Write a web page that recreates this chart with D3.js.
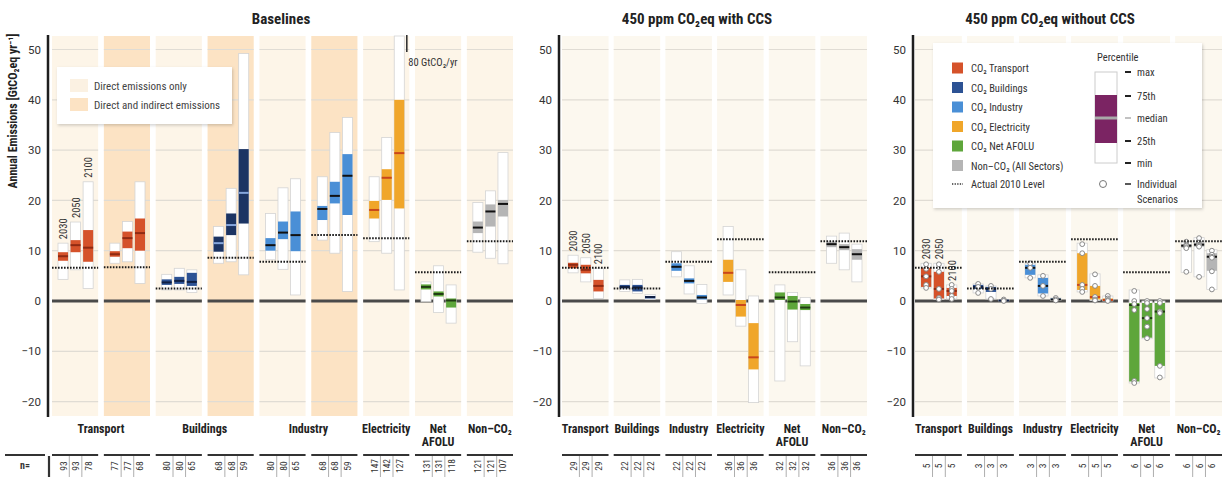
<!DOCTYPE html>
<html><head><meta charset="utf-8">
<script src="https://cdn.jsdelivr.net/npm/d3@7"></script>
<style>
body{margin:0;background:#fff;}
svg{display:block;font-family:'Liberation Sans Narrow','Roboto Condensed',Roboto,sans-serif;}
</style></head><body>
<svg id="c" width="1226" height="477"></svg>
<script>
// ---------------- DATA ----------------
const years = ["2030", "2050", "2100"];
const yTicks = [50, 40, 30, 20, 10, 0, -10, -20];

// Baselines: [min, p25, median, p75, max] per year
const baseGroups = ["Transport","Transport","Buildings","Buildings","Industry","Industry","Electricity","Net AFOLU","Non-CO₂"];
const baseScope  = ["direct","indirect","direct","indirect","direct","indirect","direct","direct","direct"];
const baseStats = [
  [[4.3,8.0,8.9,9.7,11.5],[6.2,9.7,11.1,12.1,15.7],[2.5,7.8,10.6,14.1,23.7]],
  [[7.5,8.8,9.3,9.9,11.5],[7.8,10.5,12.5,13.8,15.8],[3.5,10.0,13.5,16.4,23.7]],
  [[2.2,3.2,3.7,4.3,5.3],[2.2,3.4,4.0,4.8,6.5],[1.7,3.0,3.8,5.6,6.2]],
  [[7.5,9.8,11.5,12.8,14.8],[7.8,13.1,15.1,17.4,22.4],[5.2,15.4,21.5,30.2,49.2]],
  [[8.2,10.0,11.1,12.5,17.4],[6.3,12.3,13.6,15.8,22.5],[1.2,9.9,13.1,17.8,24.3]],
  [[12.1,16.1,18.3,18.9,24.7],[9.5,19.4,20.9,23.7,33.5],[1.9,17.1,24.9,29.2,36.5]],
  [[11.8,16.4,18.1,19.9,24.7],[9.5,20.1,24.5,26.2,32.5],[2.2,18.4,29.4,40.0,80]],
  [[-0.1,2.3,2.8,3.3,3.8],[-2.3,0.9,1.4,1.9,7.0],[-4.4,-1.3,0.1,0.5,3.2]],
  [[9.7,13.5,14.6,15.8,19.6],[8.5,14.8,17.8,19.2,21.9],[7.4,16.8,19.3,20.1,29.5]]
];
const base2010 = [6.6, 6.7, 2.5, 8.6, 7.8, 13.1, 12.5, 5.7, 11.9];
const baseN = [[93,93,78],[77,77,68],[80,80,65],[68,68,59],[80,80,65],[68,68,59],[147,142,127],[131,131,118],[121,121,107]];
const baseLabels = [["Transport",0,1],["Buildings",2,3],["Industry",4,5],["Electricity",6,6],["Net|AFOLU",7,7],["Non–CO₂",8,8]];

// 450 ppm with CCS
const ccsGroups = ["Transport","Buildings","Industry","Electricity","Net AFOLU","Non-CO₂"];
const ccsStats = [
  [[5.6,6.5,7.2,7.6,9.1],[3.8,5.5,6.2,7.2,8.6],[0.5,1.9,3.0,4.2,6.5]],
  [[1.9,2.5,2.8,3.2,4.2],[1.5,1.9,2.7,3.2,4.3],[0.3,0.5,0.8,1.0,1.3]],
  [[4.8,6.0,6.8,7.5,9.8],[1.4,3.5,4.0,4.5,7.0],[-0.5,0.3,0.7,1.2,3.3]],
  [[1.2,3.8,5.6,8.2,14.8],[-5.0,-3.1,-0.8,0.2,6.2],[-20.2,-13.6,-11.2,-4.4,1.0]],
  [[-15.9,0.2,0.7,1.7,3.2],[-8.1,-1.7,-0.1,1.0,1.7],[-12.9,-1.8,-1.3,-0.6,0.7]],
  [[7.5,10.7,11.3,11.8,12.9],[6.2,10.1,10.7,11.3,13.5],[3.8,8.2,9.3,10.3,11.3]]
];
const ccs2010 = [6.6, 2.5, 7.8, 12.3, 5.7, 11.9];
const ccsN = [[29,29,29],[22,22,22],[22,22,22],[36,36,36],[32,32,32],[36,36,36]];

// 450 ppm without CCS
const noCcsGroups = ["Transport","Buildings","Industry","Electricity","Net AFOLU","Non-CO₂"];
const noCcsStats = [
  [[2.6,2.8,4.9,6.6,7.5],[0.3,0.5,2.4,5.8,7.5],[0.4,1.0,2.0,2.6,3.2]],
  [[1.6,2.4,2.8,3.2,3.4],[0.4,1.8,2.4,2.8,3.0],[0.0,0.0,0.1,0.2,0.3]],
  [[4.6,5.2,6.6,7.2,7.5],[1.0,1.5,3.0,4.6,5.2],[0.1,0.2,0.3,0.5,0.6]],
  [[1.8,2.2,3.2,9.5,11.5],[0.1,0.3,0.8,3.0,5.4],[0.0,0.1,0.2,0.5,1.0]],
  [[-16.3,-16.0,-0.8,-0.4,2.2],[-7.5,-7.3,-3.4,-0.4,0.0],[-15.3,-12.9,-2.1,-0.4,0.0]],
  [[5.7,10.6,11.0,11.3,11.8],[4.8,10.8,11.2,11.6,12.6],[2.3,6.0,8.8,9.5,10.2]]
];
const noCcsScenarios = [
  [[7.3,6.4,4.9,3.2,2.6],[7.3,5.8,2.4,0.6,0.3],[3.2,2.4,2.0,1.0,0.4]],
  [[3.4,2.8,1.6],[3.0,2.4,0.4],[0.3,0.1,0.0]],
  [[7.5,6.6,4.6],[5.0,3.0,1.0],[0.6,0.3,0.1]],
  [[11.3,9.5,3.2,2.4,1.8],[5.3,3.0,0.8,0.3,0.1],[1.0,0.5,0.2,0.1,0.0]],
  [[2.0,0.0,-0.6,-1.8,-15.9,-16.3],[0.0,-0.4,-1.6,-3.4,-5.1,-7.4],[0.0,-0.4,-2.1,-2.4,-12.9,-15.2]],
  [[11.8,11.2,11.0,10.7,10.5,5.8],[12.5,11.6,11.2,11.0,10.8,4.8],[10.0,9.2,8.8,8.6,5.9,2.3]]
];
const noCcs2010 = [6.6, 2.5, 7.8, 12.3, 5.7, 11.9];
const noCcsN = [[5,5,5],[3,3,3],[3,3,3],[5,5,5],[6,6,6],[6,6,6]];
const sixLabels = [["Transport",0,0],["Buildings",1,1],["Industry",2,2],["Electricity",3,3],["Net|AFOLU",4,4],["Non–CO₂",5,5]];

const legendSectors = ["CO₂ Transport","CO₂ Buildings","CO₂ Industry","CO₂ Electricity","CO₂ Net AFOLU","Non–CO₂ (All Sectors)"];
const legendKeys = ["Transport","Buildings","Industry","Electricity","Net AFOLU","Non-CO₂"];
const percentileLabels = ["max","75th","median","25th","min"];

// ---------------- STYLE ----------------
const sectorColor = {"Transport":"#d5522a","Buildings":"#2c5294","Industry":"#4a8fd6","Electricity":"#f0a62a","Net AFOLU":"#5ea63b","Non-CO₂":"#b5b5b5"};
const medianColor = {"Transport":"#8f2a12","Buildings":"#101f42","Industry":"#111","Electricity":"#c9461b","Net AFOLU":"#1f3a12","Non-CO₂":"#111"};
const indirectBuildings = {fill:"#1c3463", median:"#86a6dc"};
const bgDirect = "#fdf5e8", bgIndirect = "#fce3c4", bgMit = "#fcf8ef";

const svg = d3.select("#c");
const y = d3.scaleLinear().domain([-20, 50]).range([401.6, 49.5]);
const TOP = 36, BOT = 416;

function drawPanel(cfg) {
  const g = svg.append("g");
  const n = cfg.groups.length;
  const gx = d3.scaleBand().domain(d3.range(n)).range([cfg.x0, cfg.x1]).paddingInner(cfg.pad);
  const bw = gx.bandwidth();
  const bx = d3.scaleBand().domain(years).range([6, bw - 5]).paddingInner(0.2);

  g.selectAll("rect.bg").data(d3.range(n)).join("rect")
    .attr("x", i => gx(i)).attr("y", TOP).attr("width", bw).attr("height", BOT - TOP)
    .attr("fill", i => cfg.scope ? (cfg.scope[i] === "indirect" ? bgIndirect : bgDirect) : bgMit);

  d3.range(n).forEach(i => {
    g.selectAll(null).data(yTicks.filter(t => t !== 0)).join("line")
      .attr("x1", gx(i)).attr("x2", gx(i) + bw)
      .attr("y1", t => y(t)).attr("y2", t => y(t))
      .attr("stroke", "#e0dcd4").attr("stroke-width", 1.2);
  });
  g.selectAll("line.zero").data(d3.range(n)).join("line")
    .attr("x1", i => gx(i)).attr("x2", i => gx(i) + bw)
    .attr("y1", y(0)).attr("y2", y(0))
    .attr("stroke", "#4a4a4a").attr("stroke-width", 3);

  const ax = g.append("g").attr("transform", `translate(${cfg.axisX},0)`)
    .call(d3.axisLeft(y).tickValues(yTicks).tickSize(0).tickPadding(7));
  ax.select(".domain").remove();
  ax.selectAll("text").attr("font-size", 11.5).attr("fill", "#333").attr("font-family", "Roboto, sans-serif");
  g.append("line").attr("x1", cfg.axisX).attr("x2", cfg.axisX).attr("y1", 35).attr("y2", 417)
    .attr("stroke", "#1e1e1e").attr("stroke-width", 2.5);

  cfg.stats.forEach((grp, i) => {
    const sector = cfg.groups[i];
    let fill = sectorColor[sector], med = medianColor[sector];
    if (cfg.scope && cfg.scope[i] === "indirect" && sector === "Buildings") { fill = indirectBuildings.fill; med = indirectBuildings.median; }
    grp.forEach((s, j) => {
      const x = gx(i) + bx(years[j]), w = bx.bandwidth();
      const top = Math.max(y(s[4]), TOP);
      g.append("rect").attr("x", x).attr("y", top).attr("width", w).attr("height", y(s[0]) - top)
        .attr("fill", "#fff").attr("stroke", "#d4d4d4").attr("stroke-width", 0.8);
      g.append("rect").attr("x", x).attr("y", y(s[3])).attr("width", w).attr("height", y(s[1]) - y(s[3]))
        .attr("fill", fill);
      g.append("line").attr("x1", x).attr("x2", x + w).attr("y1", y(s[2])).attr("y2", y(s[2]))
        .attr("stroke", med).attr("stroke-width", 2);
      if (s[4] > 52.5) {
        g.append("line").attr("x1", x + w + 2.5).attr("x2", x + w + 2.5).attr("y1", 35).attr("y2", 52)
          .attr("stroke", "#333").attr("stroke-width", 1.6);
        g.append("text").attr("x", x + w + 4).attr("y", 66).attr("font-size", 10.5).attr("fill", "#333")
          .text(s[4] + " GtCO₂/yr");
      }
      if (cfg.scen) {
        g.selectAll(null).data(cfg.scen[i][j]).join("circle")
          .attr("cx", x + w / 2).attr("cy", v => y(v)).attr("r", 2.4)
          .attr("fill", "#fff").attr("stroke", "#8a8a8a").attr("stroke-width", 1);
      }
      if (i === 0) {
        g.append("text").attr("transform", `translate(${x + w / 2 + 4},${y(s[4]) - 4}) rotate(-90)`)
          .attr("font-size", 10.5).attr("fill", "#333").text(years[j]);
      }
    });
  });

  g.selectAll("line.lvl").data(cfg.level).join("line")
    .attr("x1", (d, i) => gx(i)).attr("x2", (d, i) => gx(i) + bw)
    .attr("y1", d => y(d)).attr("y2", d => y(d))
    .attr("stroke", "#1a1a1a").attr("stroke-width", 2).attr("stroke-dasharray", "1.6,1.4");

  cfg.labels.forEach(([lab, a, b]) => {
    const cx = (gx(a) + gx(b) + bw) / 2;
    lab.split("|").forEach((t, k) => {
      g.append("text").attr("x", cx).attr("y", 433 + k * 13).attr("text-anchor", "middle")
        .attr("font-size", 12).attr("font-weight", "bold").attr("fill", "#222").text(t);
    });
  });

  cfg.nvals.forEach((ns, i) => {
    g.append("line").attr("x1", gx(i)).attr("x2", gx(i) + bw).attr("y1", 455).attr("y2", 455)
      .attr("stroke", "#333").attr("stroke-width", 1.8);
    ns.forEach((v, j) => {
      const cx = gx(i) + bx(years[j]) + bx.bandwidth() / 2;
      g.append("text").attr("transform", `translate(${cx + 3.5},466) rotate(-90)`)
        .attr("text-anchor", "middle").attr("font-size", 9.5).attr("fill", "#333").text(v);
      if (j > 0) {
        const sx = gx(i) + bx(years[j]) - bx.step() * 0.1;
        g.append("line").attr("x1", sx).attr("x2", sx).attr("y1", 456).attr("y2", 477)
          .attr("stroke", "#999").attr("stroke-width", 0.8);
      }
    });
  });

  g.append("text").attr("x", cfg.titleX).attr("y", 24).attr("text-anchor", "middle")
    .attr("font-size", 15).attr("font-weight", "bold").attr("fill", "#222").text(cfg.title);
}

drawPanel({title:"Baselines", titleX:281, axisX:48, x0:52, x1:513, pad:0.11, groups:baseGroups, scope:baseScope,
  stats:baseStats, level:base2010, nvals:baseN, labels:baseLabels});
drawPanel({title:"450 ppm CO₂eq with CCS", titleX:697, axisX:559, x0:562, x1:867, pad:0.1, groups:ccsGroups,
  stats:ccsStats, level:ccs2010, nvals:ccsN, labels:sixLabels});
drawPanel({title:"450 ppm CO₂eq without CCS", titleX:1050, axisX:913, x0:915, x1:1222, pad:0.1, groups:noCcsGroups,
  stats:noCcsStats, level:noCcs2010, nvals:noCcsN, labels:sixLabels, scen:noCcsScenarios});

svg.append("text").attr("transform", "translate(17,111) rotate(-90)").attr("text-anchor", "middle")
  .attr("font-size", 12).attr("font-weight", "bold").attr("fill", "#222").text("Annual Emissions [GtCO₂eq yr⁻¹]");

svg.append("line").attr("x1", 5).attr("x2", 45).attr("y1", 455).attr("y2", 455).attr("stroke", "#333").attr("stroke-width", 1.8);
svg.append("text").attr("x", 20).attr("y", 469).attr("font-size", 10).attr("font-weight", "bold").attr("fill", "#333").text("n=");
svg.append("line").attr("x1", 49).attr("x2", 49).attr("y1", 456).attr("y2", 477).attr("stroke", "#333").attr("stroke-width", 2.2);

const defs = svg.append("defs");
const f = defs.append("filter").attr("id", "sh").attr("x", "-10%").attr("y", "-10%").attr("width", "120%").attr("height", "130%");
f.append("feDropShadow").attr("dx", 1).attr("dy", 1.5).attr("stdDeviation", 1.5).attr("flood-color", "#000").attr("flood-opacity", 0.18);

const L = svg.append("g");
L.append("rect").attr("x", 57).attr("y", 67).attr("width", 175).attr("height", 57).attr("fill", "#fff").attr("filter", "url(#sh)");
L.append("rect").attr("x", 70).attr("y", 79).attr("width", 18).attr("height", 13).attr("fill", "#fbf1e2");
L.append("rect").attr("x", 70).attr("y", 98).attr("width", 18).attr("height", 13).attr("fill", bgIndirect);
L.append("text").attr("x", 94).attr("y", 90).attr("font-size", 11).attr("fill", "#444").text("Direct emissions only");
L.append("text").attr("x", 94).attr("y", 109).attr("font-size", 11).attr("fill", "#444").text("Direct and indirect emissions");

const R = svg.append("g");
R.append("rect").attr("x", 933).attr("y", 43).attr("width", 269).attr("height", 165).attr("fill", "#fff").attr("filter", "url(#sh)");
legendSectors.forEach((t, i) => {
  const cy = 68 + i * 19.5;
  R.append("rect").attr("x", 952).attr("y", cy - 5.5).attr("width", 11).attr("height", 11).attr("fill", sectorColor[legendKeys[i]]);
  R.append("text").attr("x", 971).attr("y", cy + 4).attr("font-size", 10.5).attr("fill", "#333").text(t);
});
R.append("line").attr("x1", 952).attr("x2", 963).attr("y1", 184).attr("y2", 184).attr("stroke", "#333").attr("stroke-width", 1.5).attr("stroke-dasharray", "1.3,1.3");
R.append("text").attr("x", 971).attr("y", 188).attr("font-size", 10.5).attr("fill", "#333").text("Actual 2010 Level");
R.append("text").attr("x", 1097).attr("y", 61).attr("font-size", 10.5).attr("fill", "#333").text("Percentile");
R.append("rect").attr("x", 1095).attr("y", 72).attr("width", 22).attr("height", 91).attr("fill", "#fff").attr("stroke", "#ccc");
R.append("rect").attr("x", 1095).attr("y", 95).attr("width", 22).attr("height", 48).attr("fill", "#7b2463");
R.append("line").attr("x1", 1095).attr("x2", 1117).attr("y1", 118).attr("y2", 118).attr("stroke", "#a9a9a9").attr("stroke-width", 3);
const pY = [72, 96, 118, 141, 163];
percentileLabels.forEach((t, i) => {
  R.append("line").attr("x1", 1125).attr("x2", 1131).attr("y1", pY[i]).attr("y2", pY[i])
    .attr("stroke", i === 2 ? "#999" : "#222").attr("stroke-width", i === 2 ? 1.2 : 2);
  R.append("text").attr("x", 1137).attr("y", pY[i] + 4).attr("font-size", 10.5).attr("fill", "#333").text(t);
});
R.append("circle").attr("cx", 1103).attr("cy", 184).attr("r", 3.5).attr("fill", "#fff").attr("stroke", "#777");
R.append("line").attr("x1", 1125).attr("x2", 1131).attr("y1", 184).attr("y2", 184).attr("stroke", "#222").attr("stroke-width", 1.5);
R.append("text").attr("x", 1137).attr("y", 188).attr("font-size", 10.5).attr("fill", "#333").text("Individual");
R.append("text").attr("x", 1137).attr("y", 203).attr("font-size", 10.5).attr("fill", "#333").text("Scenarios");
</script></body></html>
